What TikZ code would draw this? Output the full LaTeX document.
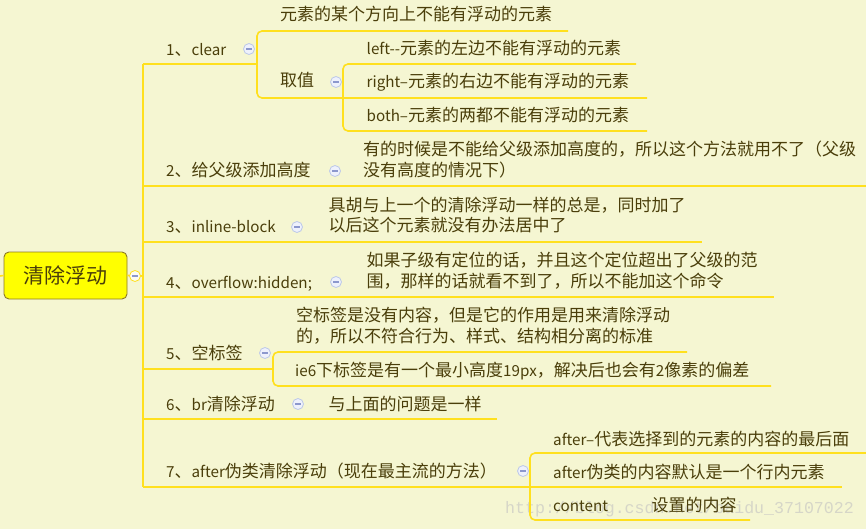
\documentclass[tikz,border=0pt]{standalone}
\usepackage{fontspec}
\newfontfamily\cjk{Noto Sans CJK SC}
\newfontfamily\wmfont{Liberation Mono}
\newcommand\la[1]{{\fontsize{15.2}{20}\selectfont #1}}
\definecolor{bgc}{RGB}{245,246,210}
\definecolor{lnc}{RGB}{255,224,30}
\definecolor{txc}{RGB}{74,62,10}
\definecolor{icb}{RGB}{188,200,232}
\definecolor{icf}{RGB}{238,241,252}
\definecolor{icm}{RGB}{140,152,205}
\definecolor{rootfill}{RGB}{255,255,0}
\definecolor{rootdraw}{RGB}{140,120,40}
\definecolor{wmc}{RGB}{214,214,200}
\begin{document}
\begin{tikzpicture}[x=1pt,y=-1pt,
  lnk/.style={draw=lnc,line width=1.6pt},
  brk/.style={lnk,rounded corners=5pt},
  txt/.style={anchor=base west,inner sep=0pt,text=txc,font=\cjk\fontsize{17}{20}\selectfont},
  icon/.style={circle,minimum size=11pt,inner sep=0pt,draw=icb,fill=icf,line width=0.8pt,
    path picture={\draw[icm,line width=1.1pt] ([xshift=-2.8pt]path picture bounding box.center) -- ([xshift=2.8pt]path picture bounding box.center);}},
  rooticon/.style={icon,draw=lnc,fill=white!70!bgc},
  rootbox/.style={draw=rootdraw,fill=rootfill,rounded corners=5pt,line width=0.9pt,
    minimum width=123pt,minimum height=47pt,inner sep=0pt,text=txc,font=\cjk\fontsize{21}{24}\selectfont},
  wm/.style={anchor=base west,inner sep=0pt,text=wmc,font=\wmfont\fontsize{16.6}{20}\selectfont}
]
\fill[bgc] (0,0) rectangle (866,529);
\useasboundingbox (0,0) rectangle (866,529);

% root
\node[rootbox] (root) at (65.5,275.5) {清除浮动};

% coordinates
\coordinate (L0) at (0,276);
\coordinate (J0) at (143,276);
\coordinate (S1) at (143,64);
\coordinate (S2) at (143,186);
\coordinate (S3) at (143,242);
\coordinate (S4) at (143,297);
\coordinate (S5) at (143,369);
\coordinate (S6) at (143,419);
\coordinate (S7) at (143,487);
\coordinate (B1) at (257,64);
\coordinate (E0) at (568,31);
\coordinate (E1) at (647,98);
\coordinate (Q0) at (636,64);
\coordinate (Q2) at (647,131);
\coordinate (E2) at (866,186);
\coordinate (E3) at (702,242);
\coordinate (E4) at (774,297);
\coordinate (B5) at (273,369);
\coordinate (F5a) at (687,352);
\coordinate (F5b) at (771,386);
\coordinate (E6) at (497,419);
\coordinate (E7) at (842,487);
\coordinate (F7a) at (866,453);
\coordinate (F7c) at (750,520);

% watermark (behind)
\node[wm] (wmk) at (505,513) {http://blog.csdn.net/baidu\_37107022};

% connectors
\draw[lnk] (L0) -- (root.west);
\draw[lnk] (root.east) -- (J0);
\draw[lnk] (S1) -- (S7);
\draw[lnk] (S1) -- (B1);
\draw[brk] (E0) -- (257,31) -- (257,98) -- (E1);
\draw[brk] (Q0) -- (343,64) -- (343,131) -- (Q2);
\draw[lnk] (S2) -- (E2);
\draw[lnk] (S3) -- (E3);
\draw[lnk] (S4) -- (E4);
\draw[lnk] (S5) -- (B5);
\draw[brk] (F5a) -- (273,352) -- (273,386) -- (F5b);
\draw[lnk] (S6) -- (E6);
\draw[lnk] (S7) -- (E7);
\draw[brk] (F7a) -- (530,453) -- (530,520) -- (F7c);

% icons
\node[rooticon] (i0) at (135,276) {};
\node[icon] (i1) at (249,49) {};
\node[icon] (i1q) at (336,82) {};
\node[icon] (i2) at (335,171) {};
\node[icon] (i3) at (297,227) {};
\node[icon] (i4) at (336,282) {};
\node[icon] (i5) at (265,353) {};
\node[icon] (i6) at (298,404) {};
\node[icon] (i7) at (523,471) {};

% texts branch 1
\node[txt] (t1) at (166,55.5) {\la{1}、\la{clear}};
\node[txt] (t1a) at (280,21) {元素的某个方向上不能有浮动的元素};
\node[txt] (t1b) at (280,87) {取值};
\node[txt] (t1b1) at (366.5,54.5) {\la{left-{}-}元素的左边不能有浮动的元素};
\node[txt] (t1b2) at (366.5,87.5) {\la{right–}元素的右边不能有浮动的元素};
\node[txt] (t1b3) at (366.5,122) {\la{both–}元素的两都不能有浮动的元素};

% branch 2
\node[txt] (t2) at (166,177) {\la{2}、给父级添加高度};
\node[txt] (t2a) at (363,155.5) {有的时候是不能给父级添加高度的，所以这个方法就用不了（父级};
\node[txt] (t2b) at (363,177) {没有高度的情况下）};

% branch 3
\node[txt] (t3) at (166,232.5) {\la{3}、\la{inline-block}};
\node[txt] (t3a) at (328.5,211.5) {具胡与上一个的清除浮动一样的总是，同时加了};
\node[txt] (t3b) at (328.5,232) {以后这个元素就没有办法居中了};

% branch 4
\node[txt] (t4) at (166,288) {\la{4}、\la{overflow:hidden;}};
\node[txt] (t4a) at (366.5,266.5) {如果子级有定位的话，并且这个定位超出了父级的范};
\node[txt] (t4b) at (366.5,287.5) {围，那样的话就看不到了，所以不能加这个命令};

% branch 5
\node[txt] (t5) at (166,359.5) {\la{5}、空标签};
\node[txt] (t5a) at (296,321.5) {空标签是没有内容，但是它的作用是用来清除浮动};
\node[txt] (t5b) at (296,342) {的，所以不符合行为、样式、结构相分离的标准};
\node[txt] (t5c) at (295,376.5) {\la{ie6}下标签是有一个最小高度\la{19px}，解决后也会有\la{2}像素的偏差};

% branch 6
\node[txt] (t6) at (166,410.5) {\la{6}、\la{br}清除浮动};
\node[txt] (t6a) at (328.5,410) {与上面的问题是一样};

% branch 7
\node[txt] (t7) at (166,477) {\la{7}、\la{after}伪类清除浮动（现在最主流的方法）};
\node[txt] (t7a) at (553,445) {\la{after–}代表选择到的元素的内容的最后面};
\node[txt] (t7b) at (553,478) {\la{after}伪类的内容默认是一个行内元素};
\node[txt] (t7c) at (553,511) {\la{content}};
\node[txt] (t7d) at (651.5,511) {设置的内容};
\end{tikzpicture}
\end{document}
